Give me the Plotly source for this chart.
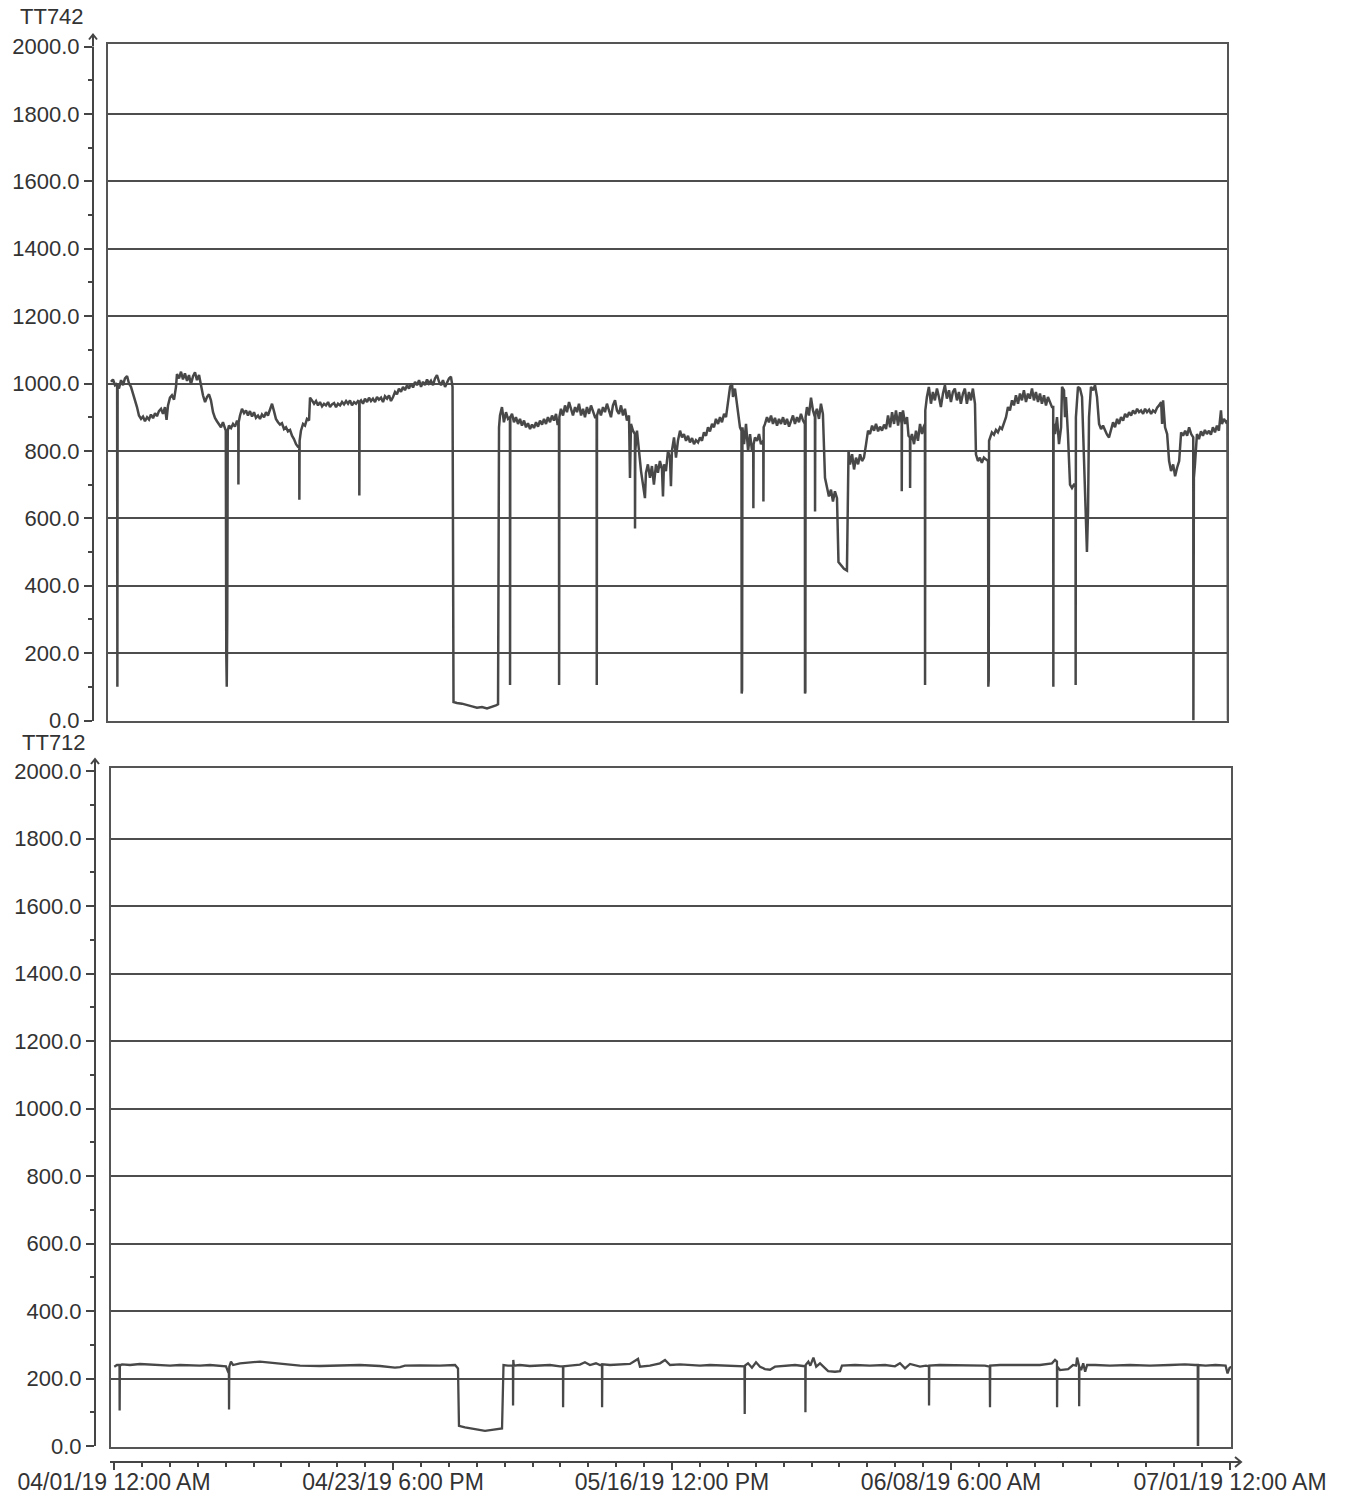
import pandas as pd
import plotly.graph_objects as go

W, H = 1355, 1496
START = pd.Timestamp("2019-04-01 00:00")

# ---- data: (days since 04/01/19 00:00, value) ----
tt742_points = [
    (0.04, 1005), (0.20, 1012), (0.37, 995), (0.50, 1000), (0.54, 1000), (0.56, 100), (0.58, 990),
    (0.69, 985), (0.86, 1010), (1.02, 995), (1.18, 1015), (1.35, 1022), (1.51, 1000), (1.67, 990),
    (1.83, 970), (2.00, 955), (2.16, 930), (2.32, 905), (2.49, 895), (2.65, 902), (2.81, 888),
    (2.98, 900), (3.14, 893), (3.30, 908), (3.47, 897), (3.63, 912), (3.79, 903), (3.95, 918),
    (4.12, 925), (4.28, 910), (4.44, 930), (4.57, 892), (4.69, 935), (4.85, 958), (5.01, 965),
    (5.18, 952), (5.34, 990), (5.42, 1028), (5.59, 1015), (5.75, 1035), (5.91, 1012), (6.07, 1030),
    (6.24, 1008), (6.40, 1025), (6.56, 998), (6.73, 1022), (6.89, 1033), (7.05, 1010), (7.22, 1025),
    (7.38, 995), (7.54, 965), (7.71, 945), (7.87, 960), (8.03, 968), (8.19, 950), (8.36, 915),
    (8.52, 898), (8.68, 888), (8.85, 880), (9.01, 870), (9.17, 885), (9.34, 868), (9.40, 860),
    (9.44, 200), (9.48, 100), (9.52, 300), (9.56, 860), (9.66, 875), (9.83, 868), (9.99, 880),
    (10.15, 872), (10.32, 890), (10.42, 880), (10.43, 700), (10.45, 885), (10.56, 905), (10.72, 925),
    (10.89, 912), (11.05, 920), (11.21, 905), (11.37, 918), (11.54, 902), (11.70, 915), (11.86, 898),
    (12.03, 905), (12.19, 895), (12.35, 908), (12.52, 900), (12.68, 915), (12.84, 905), (13.01, 925),
    (13.17, 940), (13.33, 918), (13.49, 895), (13.66, 885), (13.82, 878), (13.98, 882), (14.15, 865),
    (14.31, 870), (14.47, 858), (14.64, 862), (14.80, 845), (14.96, 835), (15.13, 820), (15.29, 812),
    (15.39, 810), (15.40, 655), (15.42, 830), (15.53, 860), (15.70, 880), (15.86, 875), (16.02, 895),
    (16.19, 890), (16.27, 958), (16.43, 950), (16.60, 940), (16.76, 948), (16.92, 935), (17.08, 945),
    (17.25, 932), (17.41, 940), (17.57, 935), (17.74, 945), (17.90, 930), (18.06, 938), (18.23, 942),
    (18.39, 930), (18.55, 940), (18.72, 935), (18.88, 945), (19.04, 938), (19.21, 948), (19.37, 940),
    (19.53, 950), (19.69, 935), (19.86, 945), (20.02, 940), (20.18, 948), (20.28, 945), (20.29, 668),
    (20.31, 945), (20.43, 950), (20.59, 940), (20.75, 955), (20.92, 945), (21.08, 958), (21.24, 948),
    (21.40, 955), (21.57, 945), (21.73, 960), (21.89, 952), (22.06, 958), (22.22, 945), (22.38, 962),
    (22.55, 955), (22.71, 965), (22.87, 948), (23.04, 960), (23.20, 975), (23.36, 968), (23.52, 985),
    (23.69, 975), (23.85, 990), (24.01, 980), (24.18, 995), (24.34, 985), (24.50, 1000), (24.67, 988),
    (24.83, 1005), (24.99, 995), (25.16, 1010), (25.32, 990), (25.48, 1005), (25.64, 995), (25.81, 1012),
    (25.97, 1000), (26.13, 1008), (26.30, 995), (26.46, 1015), (26.62, 1025), (26.79, 1005), (26.95, 995),
    (27.11, 1010), (27.28, 990), (27.44, 1005), (27.60, 1015), (27.76, 1020), (27.89, 990), (27.97, 55),
    (28.25, 52), (28.66, 50), (29.07, 45), (29.48, 42), (29.88, 38), (30.29, 40), (30.70, 36),
    (31.11, 40), (31.43, 45), (31.60, 48), (31.68, 870), (31.76, 905), (31.92, 930), (32.08, 885),
    (32.25, 915), (32.41, 895), (32.57, 900), (32.58, 105), (32.60, 900), (32.74, 910), (32.90, 885),
    (33.06, 900), (33.23, 880), (33.39, 895), (33.55, 875), (33.72, 890), (33.88, 870), (34.04, 882),
    (34.21, 865), (34.37, 878), (34.53, 868), (34.70, 885), (34.86, 872), (35.02, 890), (35.19, 878),
    (35.35, 895), (35.51, 880), (35.67, 900), (35.84, 885), (36.00, 905), (36.16, 890), (36.33, 910),
    (36.45, 880), (36.57, 880), (36.58, 105), (36.60, 900), (36.73, 925), (36.90, 905), (37.06, 935),
    (37.22, 915), (37.39, 945), (37.55, 925), (37.71, 905), (37.88, 930), (38.04, 915), (38.20, 940),
    (38.37, 905), (38.53, 925), (38.69, 900), (38.85, 930), (39.02, 910), (39.18, 935), (39.34, 915),
    (39.51, 900), (39.64, 900), (39.65, 105), (39.67, 905), (39.83, 925), (39.99, 905), (40.16, 930),
    (40.32, 915), (40.48, 940), (40.65, 918), (40.81, 900), (40.97, 935), (41.14, 950), (41.30, 920),
    (41.46, 910), (41.63, 935), (41.79, 905), (41.95, 925), (42.11, 890), (42.28, 905), (42.36, 720),
    (42.44, 880), (42.60, 860), (42.76, 850), (42.77, 570), (42.79, 800), (42.93, 860), (43.09, 790),
    (43.26, 740), (43.42, 700), (43.58, 660), (43.66, 735), (43.82, 760), (43.99, 720), (44.15, 755),
    (44.31, 700), (44.48, 760), (44.64, 735), (44.80, 770), (44.97, 745), (45.05, 665), (45.13, 760),
    (45.29, 740), (45.46, 800), (45.62, 780), (45.70, 695), (45.78, 800), (45.95, 840), (46.11, 780),
    (46.27, 830), (46.44, 860), (46.60, 840), (46.76, 850), (46.93, 830), (47.09, 845), (47.25, 825),
    (47.42, 838), (47.58, 820), (47.74, 832), (47.91, 825), (48.07, 840), (48.23, 830), (48.39, 855),
    (48.56, 845), (48.72, 870), (48.88, 858), (49.05, 880), (49.21, 870), (49.37, 895), (49.54, 880),
    (49.70, 900), (49.86, 885), (50.03, 910), (50.19, 900), (50.35, 945), (50.52, 990), (50.68, 1000),
    (50.76, 960), (50.92, 985), (51.09, 935), (51.25, 905), (51.33, 870), (51.45, 860), (51.47, 80),
    (51.50, 90), (51.53, 870), (51.66, 820), (51.82, 880), (51.99, 800), (52.15, 850), (52.31, 800),
    (52.41, 810), (52.42, 630), (52.44, 820), (52.55, 840), (52.72, 830), (52.88, 850), (53.04, 820),
    (53.23, 830), (53.24, 650), (53.26, 870), (53.37, 880), (53.53, 900), (53.69, 885), (53.86, 905),
    (54.02, 880), (54.18, 898), (54.35, 875), (54.51, 895), (54.67, 880), (54.84, 900), (55.00, 878),
    (55.16, 895), (55.33, 872), (55.49, 890), (55.65, 905), (55.81, 880), (55.98, 900), (56.14, 885),
    (56.30, 910), (56.47, 890), (56.62, 880), (56.63, 80), (56.66, 85), (56.68, 900), (56.79, 930),
    (56.95, 905), (57.12, 958), (57.28, 920), (57.44, 900), (57.45, 620), (57.47, 910), (57.60, 925),
    (57.77, 895), (57.93, 940), (58.09, 910), (58.26, 720), (58.42, 690), (58.58, 665), (58.75, 685),
    (58.91, 650), (59.07, 680), (59.24, 660), (59.36, 470), (59.56, 460), (59.81, 450), (60.05, 445),
    (60.18, 800), (60.30, 760), (60.47, 790), (60.63, 745), (60.79, 780), (60.96, 760), (61.12, 790),
    (61.28, 770), (61.44, 780), (61.61, 820), (61.77, 860), (61.93, 850), (62.10, 875), (62.26, 860),
    (62.42, 880), (62.59, 858), (62.75, 872), (62.91, 860), (63.08, 878), (63.24, 865), (63.40, 905),
    (63.57, 870), (63.73, 915), (63.89, 880), (64.05, 920), (64.22, 875), (64.38, 915), (64.51, 880),
    (64.52, 680), (64.54, 900), (64.62, 920), (64.79, 880), (64.95, 900), (65.07, 845), (65.19, 840),
    (65.20, 690), (65.22, 830), (65.35, 850), (65.52, 820), (65.68, 860), (65.84, 830), (66.01, 880),
    (66.17, 850), (66.29, 870), (66.41, 880), (66.42, 105), (66.44, 920), (66.57, 960), (66.73, 990),
    (66.90, 940), (67.06, 975), (67.22, 950), (67.39, 985), (67.55, 960), (67.71, 930), (67.88, 970),
    (68.04, 995), (68.20, 955), (68.37, 980), (68.53, 945), (68.69, 975), (68.85, 985), (69.02, 950),
    (69.18, 975), (69.34, 940), (69.51, 970), (69.67, 985), (69.83, 940), (70.00, 975), (70.16, 950),
    (70.32, 985), (70.49, 940), (70.57, 790), (70.73, 770), (70.89, 780), (71.05, 765), (71.22, 780),
    (71.38, 775), (71.56, 770), (71.58, 100), (71.61, 120), (71.64, 830), (71.71, 840), (71.87, 855),
    (72.04, 848), (72.20, 862), (72.36, 855), (72.53, 870), (72.69, 865), (72.85, 880), (73.02, 900),
    (73.18, 930), (73.34, 920), (73.51, 950), (73.67, 935), (73.83, 965), (74.00, 940), (74.16, 970),
    (74.32, 950), (74.48, 980), (74.65, 945), (74.81, 970), (74.97, 955), (75.14, 985), (75.30, 950),
    (75.46, 975), (75.63, 945), (75.79, 970), (75.95, 940), (76.12, 965), (76.28, 935), (76.44, 960),
    (76.61, 945), (76.77, 930), (76.87, 930), (76.88, 100), (76.90, 880), (77.02, 850), (77.18, 900),
    (77.34, 820), (77.51, 870), (77.59, 990), (77.75, 980), (77.83, 900), (77.91, 960), (78.07, 850),
    (78.24, 700), (78.40, 690), (78.56, 700), (78.69, 700), (78.70, 105), (78.72, 900), (78.89, 990),
    (79.05, 985), (79.22, 960), (79.38, 750), (79.54, 600), (79.62, 500), (79.71, 620), (79.79, 900),
    (79.95, 990), (80.12, 980), (80.28, 995), (80.44, 960), (80.61, 880), (80.77, 865), (80.93, 875),
    (81.10, 860), (81.26, 848), (81.42, 840), (81.59, 860), (81.75, 885), (81.91, 870), (82.08, 895),
    (82.24, 880), (82.40, 900), (82.57, 890), (82.73, 910), (82.89, 900), (83.06, 915), (83.22, 905),
    (83.38, 920), (83.55, 910), (83.71, 925), (83.87, 915), (84.03, 920), (84.20, 910), (84.36, 925),
    (84.52, 915), (84.69, 922), (84.85, 910), (85.01, 920), (85.18, 915), (85.34, 928), (85.50, 935),
    (85.67, 945), (85.75, 880), (85.83, 950), (85.99, 870), (86.16, 850), (86.32, 770), (86.48, 740),
    (86.65, 760), (86.81, 725), (86.97, 750), (87.14, 770), (87.30, 855), (87.46, 845), (87.63, 860),
    (87.79, 845), (87.95, 870), (88.12, 850), (88.29, 840), (88.30, 0), (88.32, 5), (88.34, 720),
    (88.43, 760), (88.59, 850), (88.75, 835), (88.92, 858), (89.08, 845), (89.24, 862), (89.40, 850),
    (89.57, 860), (89.73, 848), (89.89, 870), (90.06, 855), (90.22, 875), (90.38, 860), (90.55, 920),
    (90.63, 880), (90.79, 895), (90.96, 885), (91.08, 890), (91.12, 0),
]

tt712_points = [
    (0.02, 235), (0.24, 240), (0.45, 240), (0.46, 105), (0.48, 238), (0.65, 242), (1.30, 240),
    (2.12, 243), (2.94, 241), (3.75, 240), (4.57, 238), (5.38, 240), (6.20, 239), (7.01, 238),
    (7.83, 240), (8.64, 238), (9.13, 236), (9.30, 220), (9.37, 215), (9.38, 108), (9.40, 235),
    (9.54, 250), (9.71, 240), (10.27, 245), (11.09, 248), (11.90, 250), (12.72, 247), (13.54, 244),
    (14.35, 240), (15.17, 238), (16.80, 237), (18.43, 238), (20.06, 240), (21.69, 237), (22.91, 232),
    (23.32, 234), (23.73, 238), (24.95, 239), (26.58, 238), (27.81, 240), (28.05, 230), (28.13, 60),
    (28.62, 55), (29.44, 50), (30.25, 45), (30.82, 48), (31.47, 50), (31.64, 52), (31.76, 240),
    (32.12, 238), (32.53, 238), (32.54, 120), (32.56, 255), (32.60, 238), (33.09, 240), (33.90, 237),
    (34.72, 238), (35.55, 240), (36.37, 236), (36.61, 236), (36.62, 115), (36.64, 236), (37.18, 238),
    (37.99, 241), (38.40, 248), (38.81, 240), (39.30, 245), (39.63, 240), (39.79, 240), (39.80, 115),
    (39.82, 242), (40.44, 240), (41.26, 242), (42.07, 243), (42.73, 258), (42.89, 235), (43.70, 238),
    (44.52, 245), (44.93, 255), (45.34, 240), (46.15, 242), (46.97, 240), (47.78, 238), (48.60, 240),
    (49.41, 239), (50.23, 238), (51.04, 237), (51.41, 236), (51.43, 95), (51.45, 238), (51.70, 245),
    (52.02, 232), (52.35, 248), (52.68, 235), (53.08, 228), (53.49, 226), (53.90, 235), (54.71, 238),
    (55.53, 240), (56.18, 237), (56.37, 236), (56.38, 100), (56.40, 240), (56.62, 250), (56.78, 238),
    (57.03, 262), (57.26, 235), (57.57, 245), (57.91, 232), (58.23, 222), (58.79, 220), (59.20, 222),
    (59.36, 238), (60.42, 240), (61.64, 238), (62.87, 240), (63.68, 236), (64.09, 245), (64.50, 230),
    (64.91, 243), (65.72, 235), (66.21, 238), (66.45, 236), (66.46, 120), (66.48, 238), (67.33, 240),
    (68.98, 239), (70.20, 240), (71.01, 238), (71.41, 235), (71.43, 115), (71.45, 238), (72.24, 240),
    (73.87, 239), (75.50, 240), (76.48, 245), (76.73, 255), (76.89, 250), (76.90, 115), (76.92, 235),
    (77.14, 225), (77.80, 228), (78.20, 240), (78.45, 238), (78.53, 262), (78.69, 238), (78.70, 118),
    (78.72, 235), (78.86, 225), (79.03, 245), (79.19, 220), (79.35, 240), (80.01, 240), (81.21, 238),
    (82.84, 240), (84.48, 238), (86.11, 240), (87.33, 242), (88.15, 240), (88.37, 240), (88.38, 0),
    (88.40, 0), (88.42, 240), (89.01, 238), (89.82, 240), (90.64, 238), (90.80, 215), (90.97, 232),
    (91.13, 235),
]

panel_titles = ["TT742", "TT712"]
y_ticks = [0, 200, 400, 600, 800, 1000, 1200, 1400, 1600, 1800, 2000]
x_tick_dates = ["2019-04-01 00:00", "2019-04-23 18:00", "2019-05-16 12:00",
                "2019-06-08 06:00", "2019-07-01 00:00"]
x_tick_text = ["04/01/19 12:00 AM", "04/23/19 6:00 PM", "05/16/19 12:00 PM",
               "06/08/19 6:00 AM", "07/01/19 12:00 AM"]
x_range = ["2019-03-31 16:10", "2019-07-01 03:55"]


def px(x):
    return x / W


def py(y):
    return 1 - y / H


def to_dates(points):
    return [START + pd.Timedelta(days=d) for d, _ in points], [v for _, v in points]


LINE = "#484848"
AX = "#454545"
TXT = "#333333"
FONT = "Liberation Sans, Arial, sans-serif"
FS = 22

fig = go.Figure()
x1, y1 = to_dates(tt742_points)
x2, y2 = to_dates(tt712_points)
fig.add_trace(go.Scatter(x=x1, y=y1, mode="lines", line=dict(color=LINE, width=2.5),
                         xaxis="x", yaxis="y", showlegend=False))
fig.add_trace(go.Scatter(x=x2, y=y2, mode="lines", line=dict(color=LINE, width=2.3),
                         xaxis="x2", yaxis="y2", showlegend=False))

yaxis_common = dict(
    range=[0, 2000], tickvals=y_ticks, ticktext=[f"{v:.1f}" for v in y_ticks],
    ticks="outside", ticklen=8, tickwidth=2, tickcolor=AX,
    showline=True, linecolor=AX, linewidth=2,
    showgrid=True, gridcolor="#4d4d4d", gridwidth=2, zeroline=False,
    minor=dict(dtick=100, tick0=0, ticks="outside", ticklen=4, tickwidth=2,
               tickcolor=AX, showgrid=False),
    tickfont=dict(family=FONT, size=FS, color=TXT), anchor="free", fixedrange=True,
    automargin=False,
)

fig.update_layout(
    width=W, height=H, margin=dict(l=0, r=0, t=0, b=0, pad=0, autoexpand=False),
    paper_bgcolor="white", plot_bgcolor="white",
    xaxis=dict(domain=[px(106.5), px(1228.5)], range=x_range, type="date", anchor="y",
               showticklabels=False, showgrid=False, showline=False, ticks="", zeroline=False,
               automargin=False, fixedrange=True),
    yaxis=dict(domain=[py(720.5), py(46.5)], position=px(93), **yaxis_common),
    xaxis2=dict(domain=[px(110), px(1232)], range=x_range, type="date", anchor="free",
                position=py(1462), tickvals=x_tick_dates, ticktext=x_tick_text,
                ticks="outside", ticklen=7, tickwidth=2, tickcolor=AX,
                showline=True, linecolor=AX, linewidth=2, showgrid=False, zeroline=False,
                automargin=False, fixedrange=True, ticklabelstandoff=-8,
                minor=dict(tick0="2019-04-01", dtick=196560000, ticks="outside",
                           ticklen=4, tickwidth=2, tickcolor=AX, showgrid=False),
                tickfont=dict(family=FONT, size=23, color=TXT)),
    yaxis2=dict(domain=[py(1446), py(771)], position=px(95), **yaxis_common),
)

shapes = []
# panel frames
for (l, r, t, b) in [(107, 1228, 43, 722), (110, 1232, 767, 1448)]:
    shapes.append(dict(type="rect", xref="paper", yref="paper", x0=px(l), x1=px(r),
                       y0=py(b), y1=py(t), line=dict(color="#555555", width=2)))
# y-axis arrows
for (ax, top) in [(93, 46.5), (95, 771)]:
    shapes.append(dict(type="line", xref="paper", yref="paper", x0=px(ax), x1=px(ax),
                       y0=py(top), y1=py(top - 12), line=dict(color=AX, width=2)))
    shapes.append(dict(type="path", xref="paper", yref="paper",
                       path=f"M {px(ax-4)},{py(top-7)} L {px(ax)},{py(top-12)} L {px(ax+4)},{py(top-7)}",
                       line=dict(color=AX, width=2)))
# x-axis arrow
shapes.append(dict(type="line", xref="paper", yref="paper", x0=px(1232), x1=px(1241),
                   y0=py(1462), y1=py(1462), line=dict(color=AX, width=2)))
shapes.append(dict(type="path", xref="paper", yref="paper",
                   path=f"M {px(1235)},{py(1457)} L {px(1241)},{py(1462)} L {px(1235)},{py(1467)}",
                   line=dict(color=AX, width=2)))
fig.update_layout(shapes=shapes)

for title, (cx, cy) in zip(panel_titles, [(52, 17), (54, 742)]):
    fig.add_annotation(text=title, x=px(cx), y=py(cy), xref="paper", yref="paper",
                       showarrow=False, xanchor="center", yanchor="middle",
                       font=dict(family=FONT, size=FS, color=TXT))

fig.write_html(
    "out.html",
    config={"displayModeBar": False, "staticPlot": True},
    post_script="document.body.style.margin='0';document.body.style.padding='0';"
                "document.body.style.overflow='hidden';",
)
